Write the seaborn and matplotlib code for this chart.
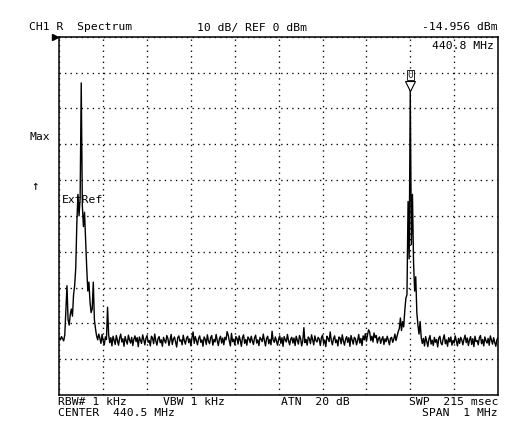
import numpy as np
import pandas as pd
import matplotlib
matplotlib.use("Agg")
import matplotlib.pyplot as plt
import matplotlib.transforms as mtransforms
import seaborn as sns

# ---- data ----
start_mhz = 440.0
stop_mhz = 441.0
n_points = 401
marker_freq = 440.8
marker_level = -14.956

left_peak = [
    -84.0, -84.6, -83.7, -84.3, -84.9, -83.2, -76.0, -69.5, -79.0, -80.5,
    -77.5, -76.0, -78.0, -72.0, -69.5, -64.5, -52.0, -44.0, -50.0, -45.0,
    -12.9, -47.0, -53.0, -49.0, -57.0, -64.5, -71.0, -68.5, -74.0, -77.0,
    -76.0, -68.5, -79.0, -81.5, -83.5, -84.6, -83.0,
]
noise_mid = [
    -84.2, -85.6, -83.1, -84.9, -86.0, -83.8, -84.5, -75.5, -83.2, -85.4, -84.0, -86.3, -83.6, -84.8, -85.9, -83.4, -84.7, -86.1, -84.1, -83.0,
    -85.2, -84.3, -86.4, -83.7, -84.9, -85.8, -83.3, -84.6, -85.5, -83.9, -86.2, -84.4, -83.5, -85.1, -84.0, -86.5, -83.8, -84.7, -85.6, -83.2,
    -84.5, -86.0, -84.2, -83.4, -85.3, -84.8, -86.3, -83.6, -84.1, -85.7, -83.0, -84.9, -86.1, -84.3, -83.7, -85.4, -84.6, -86.4, -83.9, -84.8,
    -85.5, -83.4, -84.2, -86.2, -84.7, -83.1, -85.9, -84.4, -83.8, -85.2, -86.6, -84.0, -83.5, -85.0, -84.6, -86.0, -83.3, -84.9, -85.8, -84.1,
    -83.6, -85.4, -84.3, -86.3, -83.9, -82.4, -85.6, -83.7, -84.8, -86.0, -84.2, -83.5, -85.3, -84.6, -86.4, -83.8, -84.4, -85.9, -83.2, -84.9,
    -85.7, -84.0, -83.4, -86.1, -84.5, -85.2, -83.1, -84.8, -86.2, -84.3, -83.6, -85.5, -84.1, -86.0, -83.9, -84.6, -82.3, -83.3, -84.9, -86.3,
    -82.8, -85.1, -84.4, -86.0, -83.7, -84.2, -85.8, -83.5, -84.7, -86.4, -84.0, -83.2, -85.6, -84.5, -86.1, -83.8, -84.3, -85.4, -83.6, -84.9,
    -85.9, -84.1, -83.3, -85.5, -84.6, -86.2, -83.9, -84.4, -85.1, -83.0, -84.8, -86.3, -84.2, -83.6, -85.7, -84.5, -86.0, -82.2, -84.7, -85.3,
    -83.8, -84.9, -86.1, -84.3, -83.5, -85.6, -84.0, -86.4, -83.7, -84.6, -85.2, -83.1, -84.8, -86.0, -84.4, -83.9, -85.5, -84.1, -86.2, -83.6,
    -84.7, -85.8, -83.4, -84.2, -86.3, -84.9, -81.2, -85.4, -84.5, -86.1, -83.8, -84.3, -85.7, -83.2, -84.6, -86.0, -83.5, -84.8, -85.2, -83.9,
    -84.4, -86.2, -84.0, -83.3, -85.6, -84.7, -86.5, -83.6, -84.2, -85.1, -82.4, -84.8, -86.0, -84.3, -83.5, -85.4, -84.6, -86.3, -83.8, -84.1,
    -85.7, -83.2, -84.9, -86.1, -84.5, -83.7, -85.3, -84.0, -86.4, -83.4, -84.6, -85.8, -83.9, -84.3, -86.0, -84.8, -83.1, -85.5, -84.2, -86.2,
    -83.5, -84.6, -82.9, -85.0, -83.3, -81.8, -82.4, -84.8, -83.6, -85.2, -82.7, -84.0, -83.4, -85.5, -84.2, -83.8, -85.6, -84.5, -83.7, -85.9,
    -84.3, -85.1, -83.6, -84.7, -86.0, -84.2, -83.9, -85.3, -84.4, -83.0, -84.8, -83.6, -82.3, -81.5, -78.5,
]
right_peak = [
    -82.0, -79.5, -81.0, -76.5, -73.0, -72.0, -46.0, -62.0, marker_level, -58.0,
    -44.0, -63.0, -71.0, -67.0, -77.0, -80.5, -83.0, -79.5, -84.0,
]
noise_right = [
    -85.6, -84.2, -86.3, -83.7, -85.0, -86.5, -84.4, -83.4, -85.8, -84.7, -86.2, -83.9, -85.3, -84.5, -86.6, -84.1, -83.6, -85.5, -86.0, -84.3,
    -83.2, -85.7, -84.6, -86.4, -84.0, -85.2, -83.8, -86.1, -84.8, -85.5, -83.5, -84.9, -86.3, -84.2, -85.6, -83.9, -84.7, -86.0, -84.4, -83.3,
    -85.4, -84.1, -86.2, -84.6, -83.7, -85.9, -84.3, -86.5, -83.6, -85.1, -84.8, -86.0, -84.0, -83.4, -85.7, -84.5, -86.3, -83.8, -84.9, -85.5,
    -84.2, -86.1, -83.5, -84.7, -85.8, -84.0, -85.3, -86.4, -84.6, -83.9,
]

level_dbm = left_peak + noise_mid + right_peak + noise_right
freq_mhz = np.linspace(start_mhz, stop_mhz, n_points)
df = pd.DataFrame({"freq": freq_mhz, "level": level_dbm[:n_points]})

# ---- figure ----
W, H = 524, 436
sns.set_style("white")
plt.rcParams["font.family"] = ["DejaVu Sans Mono", "DejaVu Sans"]
fig = plt.figure(figsize=(W / 100, H / 100), dpi=100)
fig.patch.set_facecolor("white")

x0, x1, ytop, ybot = 59.3, 498.0, 36.7, 395.0
ax = fig.add_axes([x0 / W, 1 - ybot / H, (x1 - x0) / W, (ybot - ytop) / H])

sns.lineplot(data=df, x="freq", y="level", ax=ax, color="black",
             linewidth=1.0, estimator=None, sort=False)

ax.set_xlim(start_mhz, stop_mhz)
ax.set_ylim(-100, 0)
ax.set_xticks(np.linspace(start_mhz, stop_mhz, 11))
ax.set_yticks(np.linspace(-100, 0, 11))
ax.tick_params(length=0, labelbottom=False, labelleft=False)
ax.set_xlabel("")
ax.set_ylabel("")
ax.grid(True, color="black", linestyle=(0, (1, 3.2)), linewidth=0.95)
for s in ax.spines.values():
    s.set_color("black")
    s.set_linewidth(1.1)

# marker at the right peak
ax.plot([marker_freq], [marker_level], marker="v", markersize=7, markerfacecolor="white",
        markeredgecolor="black", markeredgewidth=0.8, linestyle="none",
        transform=ax.transData + mtransforms.ScaledTranslation(0, 4 / 100, fig.dpi_scale_trans))
ax.annotate("0", xy=(marker_freq, marker_level), xytext=(0, 11), textcoords="offset points",
            ha="center", va="center", fontsize=7,
            bbox=dict(boxstyle="square,pad=0.05", fc="white", ec="black", lw=0.6))

def ftext(px, py, s, ha="left", size=8.2):
    fig.text(px / W, 1 - py / H, s, ha=ha, va="center", fontsize=size, color="black")

ftext(29, 27.5, "CH1 R  Spectrum")
ftext(197, 27.5, "10 dB/ REF 0 dBm")
ftext(498, 27.5, "-14.956 dBm", ha="right")
ftext(494, 46, "440.8 MHz", ha="right")
ftext(30, 137, "Max")
ftext(31, 187, "\u2191", size=9)
ftext(62, 200, "ExtRef")
ftext(58, 402, "RBW# 1 kHz")
ftext(163, 402, "VBW 1 kHz")
ftext(281, 402, "ATN  20 dB")
ftext(498, 402, "SWP  215 msec", ha="right")
ftext(58, 413, "CENTER  440.5 MHz")
ftext(498, 413, "SPAN  1 MHz", ha="right")

# reference level pointer at top-left corner
ax.plot([0], [1], marker=">", markersize=5, color="black", clip_on=False,
        transform=ax.transAxes + mtransforms.ScaledTranslation(-4 / 100, 0, fig.dpi_scale_trans))

fig.savefig("out.png", dpi=100, facecolor="white")
